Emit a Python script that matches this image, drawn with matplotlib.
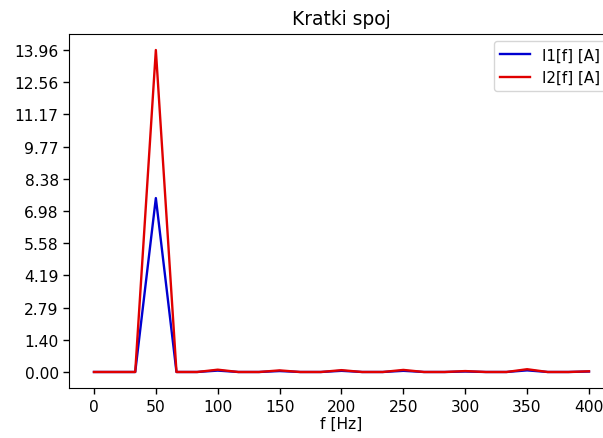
import numpy as np
import matplotlib
matplotlib.use("Agg")
import matplotlib.pyplot as plt

# frequency bins (Hz), 3 bins per 50 Hz
freq = np.arange(25) * 50 / 3
i1 = [0, 0, 0, 7.54, 0, 0, 0.06, 0, 0, 0.04, 0, 0, 0.05, 0, 0, 0.05, 0, 0,
      0.02, 0, 0, 0.07, 0, 0, 0.02]
i2 = [0, 0, 0, 13.96, 0, 0, 0.1, 0, 0, 0.07, 0, 0, 0.08, 0, 0, 0.09, 0, 0,
      0.04, 0, 0, 0.12, 0, 0, 0.03]

fig = plt.figure(figsize=(6.03, 4.39), dpi=100)
ax = fig.add_axes([0.1148, 0.1137, 0.903, 0.8068])
ax.plot(freq, i1, color="#0000d0", lw=1.7, label="I1[f] [A]")
ax.plot(freq, i2, color="#e00000", lw=1.7, label="I2[f] [A]")
ax.set_yticks(np.linspace(0, max(i2), 11))
ax.yaxis.set_major_formatter(matplotlib.ticker.FormatStrFormatter("%.2f"))
ax.set_xticks(np.arange(0, 401, 50))
ax.tick_params(labelsize=11.2, length=4, width=1)
ax.set_xlabel("f [Hz]", fontsize=11.2, labelpad=2)
ax.set_title("Kratki spoj", fontsize=13.4, pad=7)
ax.legend(loc="upper right", fontsize=10.8)
fig.savefig("out.png", dpi=100)
